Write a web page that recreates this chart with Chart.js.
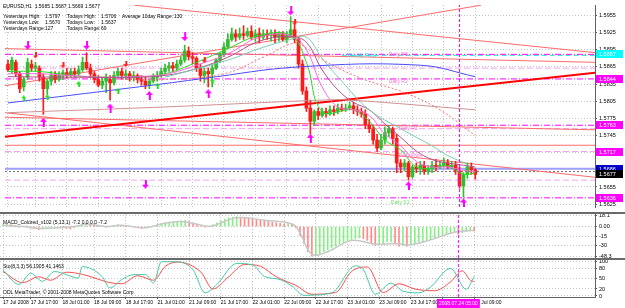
<!DOCTYPE html>
<html>
<head>
<meta charset="utf-8">
<script src="https://cdn.jsdelivr.net/npm/chart.js@4.4.1/dist/chart.umd.min.js"></script>
<style>
body { margin: 0; background: #fff; }
#wrap { position: relative; width: 625px; height: 308px; overflow: hidden; background: #fff; font-family: "Liberation Sans", Arial, sans-serif; }
canvas { position: absolute; left: 0; }
.t { position: absolute; font-size: 5px; line-height: 6px; color: #000; white-space: pre; z-index: 5; }
.sep { position: absolute; left: 0; width: 625px; height: 2px; background: #6a6a6a; }
</style>
</head>
<body>
<div id="wrap">
  <canvas id="main" width="625" height="212" style="top:0"></canvas>
  <div class="sep" style="top:212px"></div>
  <canvas id="macd" width="625" height="44" style="top:214px"></canvas>
  <div class="sep" style="top:258px"></div>
  <canvas id="stoch" width="625" height="48" style="top:260px"></canvas>

  <div class="t" style="left:3px;top:3px">EURUSD,H1  1.5685 1.5687 1.5669 1.5677</div>
  <div class="t" style="left:3px;top:13px">Yesterdays High:</div>
  <div class="t" style="left:45px;top:13px">1.5797</div>
  <div class="t" style="left:67px;top:13px">Todays High:</div>
  <div class="t" style="left:101px;top:13px">1.5706</div>
  <div class="t" style="left:122px;top:13px">Average 10day Range:</div>
  <div class="t" style="left:174px;top:13px">130</div>
  <div class="t" style="left:3px;top:19px">Yesterdays Low:</div>
  <div class="t" style="left:45px;top:19px">1.5670</div>
  <div class="t" style="left:67px;top:19px">Todays Low:</div>
  <div class="t" style="left:101px;top:19px">1.5637</div>
  <div class="t" style="left:3px;top:25px">Yesterdays Range:</div>
  <div class="t" style="left:45px;top:25px">127</div>
  <div class="t" style="left:67px;top:25px">Todays Range:</div>
  <div class="t" style="left:101px;top:25px">69</div>

  <div class="t" style="left:3px;top:219px">MACD_Colored_v102 (5,13,1) -7.2 0.0 0.0 -7.2</div>
  <div class="t" style="left:3px;top:263px">Sto(8,3,3) 56.1905 41.1463</div>
  <div class="t" style="left:3px;top:289px">ODL MetaTrader, © 2001-2008 MetaQuotes Software Corp.</div>
</div>

<script>
// hourly candles, bar 0 = 17 Jul 10:00
const opens = [
  1.5870,1.5860,1.5873,1.5853,1.5830,1.5847,1.5870,1.5863,1.5863,1.5847,
  1.5827,1.5840,1.5850,1.5843,1.5852,1.5855,1.5850,1.5857,1.5853,1.5860,
  1.5873,1.5863,1.5853,1.5843,1.5833,1.5840,1.5843,1.5837,1.5850,1.5857,
  1.5850,1.5853,1.5847,1.5850,1.5843,1.5840,1.5833,1.5840,1.5847,1.5850,
  1.5857,1.5863,1.5867,1.5863,1.5870,1.5877,1.5893,1.5883,1.5880,1.5863,
  1.5850,1.5857,1.5853,1.5863,1.5877,1.5887,1.5900,1.5913,1.5923,1.5917,
  1.5923,1.5920,1.5927,1.5917,1.5923,1.5917,1.5923,1.5920,1.5923,1.5917,
  1.5923,1.5913,1.5920,1.5930,1.5913,1.5870,1.5823,1.5793,1.5770,1.5787,
  1.5780,1.5787,1.5783,1.5790,1.5787,1.5793,1.5790,1.5793,1.5797,1.5790,
  1.5787,1.5783,1.5763,1.5757,1.5737,1.5723,1.5737,1.5750,1.5757,1.5740,
  1.5697,1.5690,1.5697,1.5673,1.5690,1.5687,1.5693,1.5683,1.5687,1.5693,
  1.5690,1.5693,1.5697,1.5690,1.5693,1.5683,1.5657,1.5677,1.5690,1.5685
];
const highs = [
  1.5877,1.5882,1.5877,1.5857,1.5847,1.5880,1.5877,1.5873,1.5867,1.5853,
  1.5843,1.5857,1.5857,1.5857,1.5860,1.5863,1.5862,1.5863,1.5867,1.5882,
  1.5890,1.5870,1.5857,1.5850,1.5847,1.5853,1.5850,1.5857,1.5863,1.5863,
  1.5860,1.5857,1.5857,1.5853,1.5850,1.5847,1.5843,1.5853,1.5857,1.5863,
  1.5870,1.5873,1.5873,1.5877,1.5883,1.5903,1.5900,1.5890,1.5883,1.5870,
  1.5863,1.5863,1.5870,1.5880,1.5890,1.5907,1.5923,1.5933,1.5930,1.5933,
  1.5937,1.5933,1.5937,1.5930,1.5933,1.5930,1.5930,1.5930,1.5930,1.5927,
  1.5927,1.5927,1.5953,1.5940,1.5917,1.5877,1.5830,1.5807,1.5790,1.5793,
  1.5793,1.5793,1.5797,1.5797,1.5800,1.5800,1.5800,1.5803,1.5803,1.5797,
  1.5793,1.5790,1.5773,1.5763,1.5747,1.5747,1.5760,1.5763,1.5760,1.5747,
  1.5703,1.5703,1.5700,1.5693,1.5697,1.5700,1.5700,1.5693,1.5700,1.5703,
  1.5700,1.5706,1.5703,1.5700,1.5700,1.5690,1.5680,1.5697,1.5697,1.5687
];
const lows = [
  1.5857,1.5853,1.5848,1.5820,1.5823,1.5843,1.5857,1.5857,1.5840,1.5782,
  1.5817,1.5833,1.5837,1.5840,1.5843,1.5845,1.5847,1.5847,1.5850,1.5857,
  1.5860,1.5847,1.5837,1.5830,1.5827,1.5820,1.5807,1.5833,1.5847,1.5843,
  1.5843,1.5840,1.5840,1.5837,1.5833,1.5827,1.5827,1.5837,1.5840,1.5847,
  1.5853,1.5857,1.5857,1.5860,1.5867,1.5873,1.5877,1.5870,1.5857,1.5840,
  1.5837,1.5830,1.5830,1.5860,1.5873,1.5883,1.5897,1.5910,1.5910,1.5913,
  1.5913,1.5917,1.5913,1.5910,1.5907,1.5913,1.5913,1.5910,1.5907,1.5910,
  1.5910,1.5907,1.5917,1.5907,1.5863,1.5817,1.5787,1.5747,1.5763,1.5773,
  1.5777,1.5777,1.5780,1.5780,1.5783,1.5787,1.5787,1.5790,1.5783,1.5780,
  1.5777,1.5757,1.5750,1.5730,1.5717,1.5720,1.5730,1.5743,1.5730,1.5680,
  1.5680,1.5683,1.5667,1.5670,1.5680,1.5677,1.5677,1.5677,1.5680,1.5683,
  1.5687,1.5690,1.5687,1.5687,1.5677,1.5653,1.5637,1.5670,1.5677,1.5669
];
const closes = [
  1.5860,1.5877,1.5853,1.5827,1.5843,1.5873,1.5863,1.5867,1.5847,1.5827,
  1.5840,1.5850,1.5843,1.5852,1.5855,1.5850,1.5857,1.5853,1.5860,1.5873,
  1.5863,1.5853,1.5843,1.5833,1.5840,1.5847,1.5837,1.5850,1.5857,1.5850,
  1.5853,1.5847,1.5850,1.5843,1.5840,1.5833,1.5840,1.5847,1.5850,1.5857,
  1.5863,1.5867,1.5863,1.5870,1.5877,1.5893,1.5883,1.5880,1.5863,1.5850,
  1.5857,1.5853,1.5863,1.5877,1.5887,1.5900,1.5913,1.5923,1.5917,1.5923,
  1.5920,1.5927,1.5917,1.5923,1.5917,1.5923,1.5920,1.5923,1.5917,1.5923,
  1.5913,1.5920,1.5930,1.5913,1.5870,1.5823,1.5793,1.5770,1.5787,1.5780,
  1.5787,1.5783,1.5790,1.5787,1.5793,1.5790,1.5793,1.5797,1.5790,1.5787,
  1.5783,1.5763,1.5757,1.5737,1.5723,1.5737,1.5750,1.5757,1.5740,1.5697,
  1.5690,1.5697,1.5673,1.5690,1.5687,1.5693,1.5683,1.5687,1.5693,1.5690,
  1.5693,1.5697,1.5690,1.5693,1.5683,1.5657,1.5677,1.5690,1.5685,1.5677
];

// moving averages read at a few bars
const maGreenX = [0, 8, 16, 24, 32, 40, 48, 56, 64, 72, 76, 80, 88, 92, 96, 100, 104, 108, 112, 116, 119];
const maGreen = [1.5857, 1.5857, 1.5850, 1.5847, 1.5847, 1.5853, 1.5873, 1.5897, 1.5920, 1.5920, 1.5873, 1.5787, 1.5790, 1.5770, 1.5737, 1.5720, 1.5690, 1.5688, 1.5692, 1.5677, 1.5680];
const maPinkX = [0, 8, 16, 24, 32, 40, 48, 56, 64, 72, 76, 80, 84, 88, 92, 96, 100, 104, 108, 112, 116, 119];
const maPink = [1.5853, 1.5853, 1.5850, 1.5847, 1.5848, 1.5852, 1.5868, 1.5888, 1.5917, 1.5920, 1.5895, 1.5830, 1.5795, 1.5790, 1.5780, 1.5748, 1.5727, 1.5700, 1.5690, 1.5690, 1.5684, 1.5682];
const maPurpleX = [0, 16, 32, 40, 48, 56, 64, 72, 76, 80, 84, 88, 92, 96, 100, 104, 108, 112, 116, 119];
const maPurple = [1.5848, 1.5847, 1.5847, 1.5850, 1.5862, 1.5882, 1.5910, 1.5918, 1.5908, 1.5860, 1.5825, 1.5803, 1.5790, 1.5765, 1.5742, 1.5718, 1.5703, 1.5697, 1.5693, 1.5690];
const maTealX = [40, 56, 64, 72, 76, 80, 85, 92, 100, 108, 112, 117];
const maTeal = [1.5847, 1.5877, 1.5897, 1.5913, 1.5917, 1.5880, 1.5840, 1.5790, 1.5757, 1.5727, 1.5710, 1.5695];
const maDotX = [30, 40, 55, 65, 73, 76, 80, 90, 101, 110, 119];
const maDot = [1.5843, 1.5843, 1.5853, 1.5882, 1.5907, 1.5898, 1.5878, 1.5845, 1.5820, 1.5790, 1.5745];
const maBlueX = [0, 39, 50, 74, 105, 119];
const maBlue = [1.5802, 1.5835, 1.5845, 1.5865, 1.5868, 1.5848];
const maBrownX = [0, 40, 80, 87, 119];
const maBrown = [1.5785, 1.5795, 1.5807, 1.5807, 1.5790];

// trend lines: start bar, start price, end bar, end price
const trendX1 = [32.1, -0.76, -0.76, -0.76, -0.76, -0.76, -0.76];
const trendY1 = [1.5973, 1.5832, 1.5743, 1.5785, 1.5728, 1.5777, 1.5897];
const trendX2 = [149.5, 120.5, 149.5, 149.5, 149.5, 149.5, 149.5];
const trendY2 = [1.5890, 1.5973, 1.5855, 1.5672, 1.5728, 1.5755, 1.5873];

// pivot levels
const pivotLevels = [1.5887, 1.5844, 1.5763, 1.5636];
const pinkLevels = [1.5863, 1.5757, 1.5717, 1.5667];
const weeklyPivot = 1.5885;
const blueLevel = 1.5687;
const askLevel = 1.5682;
const levelNames = ['Weekly Pivot', 'Daily R3', 'Daily R2', 'Daily R1', 'Daily Pivot', 'Daily S1'];
const levelNameX = [86.4, 97, 97, 99.5, 99.5, 97.5];
const levelNameY = [1.5884, 1.5887, 1.5840, 1.5757, 1.5710, 1.5628];
const priceBoxes = [1.5887, 1.5844, 1.5763, 1.5717, 1.5686, 1.5677, 1.5636];

// fractal arrows
const magUpX = [9, 26, 36, 51, 77, 102, 116];
const magUpY = [1.5768, 1.5793, 1.5815, 1.5818, 1.5740, 1.5657, 1.5627];
const magDownX = [5, 20, 45, 72, 35];
const magDownY = [1.5903, 1.5903, 1.5918, 1.5963, 1.5660];
const redDownX = [7, 14, 30, 50, 73];
const redDownY = [1.5885, 1.5868, 1.5870, 1.5877, 1.5943];
const greenUpX = [4, 10, 18, 28, 38, 52];
const greenUpY = [1.5810, 1.5812, 1.5835, 1.5823, 1.5832, 1.5840];

// MACD
const macdHist = [
  3, 4, 3, 1, -1, 0, 1, 0, -2, -5,
  -4, -3, -2, -2, -1, -2, -3, -4, -2, 1,
  4, 5, 4, 3, 1, 0, -1, 0, 2, 3,
  2, 1, 0, -1, -2, -3, -2, -1, 1, 3,
  5, 6, 7, 8, 8, 9, 10, 8, 6, 4,
  1, -1, 0, 3, 6, 9, 12, 14, 15, 16,
  15, 14, 13, 12, 11, 10, 9, 8, 7, 6,
  5, 4, 5, 4, -2, -14, -27, -40, -47, -46,
  -43, -40, -37, -34, -31, -28, -25, -23, -21, -19,
  -18, -19, -22, -26, -30, -29, -27, -24, -24, -28,
  -31, -30, -31, -29, -27, -25, -24, -22, -20, -18,
  -16, -14, -12, -10, -8, -12, -10, -8, -7, -7.2
];
const macdSigX = [0, 5, 9, 14, 19, 21, 26, 30, 36, 40, 45, 51, 53, 59, 66, 73, 75, 78, 82, 88, 94, 99, 103, 108, 114, 119];
const macdSig = [2, 0, -3, -2, 1, 4, 0, 2, -2, 4, 8, 1, 1, 14, 10, 4, -10, -44, -40, -22, -28, -27, -29, -21, -9, -6];
const macdTicks = [18.1, 0, -15, -30, -48.3];
const macdTickText = ['18.1', '0.00', '-15', '-30', '-48.3'];

// Stochastic
const stochKX = [0, 4, 7, 10, 13, 16, 19, 20, 25, 27, 30, 33, 36, 38, 40, 43, 48, 51, 54, 59, 63, 66, 70, 73, 76, 83, 89, 91, 94, 98, 101, 105, 108, 113, 117, 119];
const stochK = [75, 33, 65, 42, 70, 61, 51, 84, 56, 23, 47, 61, 61, 37, 98, 98, 75, 9, 33, 93, 89, 56, 47, 28, 2, 9, 86, 75, 5, 37, 14, 9, 26, 79, 19, 56];
const stochDX = [0, 5, 9, 12, 16, 20, 23, 27, 30, 34, 38, 41, 44, 50, 53, 57, 61, 65, 69, 74, 78, 84, 88, 92, 96, 100, 104, 109, 113, 116, 118, 119];
const stochD = [70, 38, 55, 45, 68, 62, 52, 38, 35, 58, 45, 85, 97, 68, 20, 55, 90, 85, 55, 30, 5, 10, 70, 83, 10, 35, 20, 15, 40, 72, 45, 41];
const stochTicks = [100, 80, 50, 20, 0];

// axes
const priceTicks = [1.5955, 1.5925, 1.5895, 1.5865, 1.5835, 1.5805, 1.5775, 1.5745, 1.5715, 1.5685, 1.5655, 1.5625];
const timeIdx = [0, 7, 15, 23, 31, 39, 47, 55, 63, 71, 79, 87, 95, 103, 111, 119];
const timeText = ['17 Jul 2008', '17 Jul 17:00', '18 Jul 01:00', '18 Jul 09:00', '18 Jul 17:00', '21 Jul 01:00', '21 Jul 09:00', '21 Jul 17:00', '22 Jul 01:00', '22 Jul 09:00', '22 Jul 17:00', '23 Jul 01:00', '23 Jul 09:00', '23 Jul 17:00', '24 Jul 01:00', '24 Jul 09:00'];
const crossBar = 115;
const crossText = '2008.07.24 05:00';

const FONT = '"Liberation Sans", Arial, sans-serif';
Chart.defaults.font.family = FONT;
Chart.defaults.font.size = 5.5;
Chart.defaults.color = '#000';
Chart.defaults.animation = false;

const X_MIN = -0.76, X_MAX = 149.5;
const GRID = '#c4c4c4';
const BULL = '#2fbf2f', BEAR = '#ff1a1a';

function xScale(showLabels) {
    return {
        type: 'linear', min: X_MIN, max: X_MAX, offset: false,
        afterBuildTicks: s => { s.ticks = timeIdx.map(v => ({ value: v })); },
        ticks: {
            display: showLabels, autoSkip: false, maxRotation: 0, minRotation: 0,
            align: 'start', padding: 1, font: { size: 5 },
            callback: v => timeText[timeIdx.indexOf(v)]
        },
        grid: { color: GRID, drawTicks: showLabels, tickLength: 2, tickColor: '#606060', offset: false },
        border: { display: showLabels, color: '#606060', dash: [1, 2] },
        afterFit: s => { s.height = showLabels ? 11 : 0; s.paddingLeft = 0; s.paddingRight = 0; }
    };
}

function yScale(min, max, tickVals, fmt) {
    return {
        position: 'right', min: min, max: max,
        afterBuildTicks: s => { s.ticks = tickVals.map(v => ({ value: v })); },
        ticks: { autoSkip: false, padding: 2, callback: fmt },
        grid: { color: GRID, tickLength: 2, tickColor: '#606060' },
        border: { display: true, color: '#606060', dash: [1, 2] },
        afterFit: s => { s.width = 30; s.paddingTop = 0; s.paddingBottom = 0; }
    };
}

function pts(xs, ys) {
    return xs.map((x, i) => ({ x: x, y: ys[i] }));
}

function lineSet(xs, ys, color, width, extra) {
    return Object.assign({
        type: 'line', data: pts(xs, ys), borderColor: color, borderWidth: width,
        pointRadius: 0, fill: false, tension: 0.4, order: 1
    }, extra || {});
}

function arrowImg(color, up, w, h) {
    const c = document.createElement('canvas');
    c.width = w; c.height = h;
    const g = c.getContext('2d');
    g.fillStyle = color;
    const hh = Math.round(h * 0.45);
    const sw = Math.max(1, Math.round(w / 3));
    const sx = Math.round((w - sw) / 2);
    g.beginPath();
    if (up) {
        g.moveTo(w / 2, 0); g.lineTo(w, hh); g.lineTo(0, hh); g.fill();
        g.fillRect(sx, hh, sw, h - hh);
    } else {
        g.moveTo(w / 2, h); g.lineTo(w, h - hh); g.lineTo(0, h - hh); g.fill();
        g.fillRect(sx, 0, sw, h - hh);
    }
    return c;
}

function arrowSet(xs, ys, img) {
    return { type: 'line', data: pts(xs, ys), showLine: false, pointStyle: img, pointRadius: 4, order: 0 };
}

function crossLine(min, max) {
    return {
        type: 'line', data: [{ x: crossBar, y: min }, { x: crossBar, y: max }],
        borderColor: '#ff00ff', borderWidth: 1, borderDash: [3, 2], pointRadius: 0, order: 0
    };
}

// ---------- main price panel ----------
const P_MIN = 1.5620, P_MAX = 1.59733;
const idx = closes.map((c, i) => i);
const candleColors = idx.map(i => closes[i] >= opens[i] ? BULL : BEAR);

const mainSets = [];
trendX1.forEach((x, k) => {
    mainSets.push({
        type: 'line', data: [{ x: x, y: trendY1[k] }, { x: trendX2[k], y: trendY2[k] }],
        borderColor: k === 2 ? '#ff0000' : '#ff6a6a', borderWidth: k === 2 ? 2 : 1,
        pointRadius: 0, order: 4
    });
});
pivotLevels.forEach(v => mainSets.push({
    type: 'line', data: [{ x: X_MIN, y: v }, { x: X_MAX, y: v }],
    borderColor: '#ff00ff', borderWidth: 1, borderDash: [6, 2, 1, 2], pointRadius: 0, order: 4
}));
pinkLevels.forEach(v => mainSets.push({
    type: 'line', data: [{ x: X_MIN, y: v }, { x: X_MAX, y: v }],
    borderColor: '#f4a0f0', borderWidth: 1, borderDash: [6, 3], pointRadius: 0, order: 4
}));
mainSets.push({
    type: 'line', data: [{ x: 85, y: weeklyPivot }, { x: X_MAX, y: weeklyPivot }],
    borderColor: '#40e8e8', borderWidth: 1, borderDash: [5, 3], pointRadius: 0, order: 4
});
mainSets.push({
    type: 'line', data: [{ x: X_MIN, y: blueLevel }, { x: X_MAX, y: blueLevel }],
    borderColor: '#a0a0ff', borderWidth: 2, pointRadius: 0, order: 4
});
mainSets.push({
    type: 'line', data: [{ x: X_MIN, y: askLevel }, { x: X_MAX, y: askLevel }],
    borderColor: '#707070', borderWidth: 1, borderDash: [2, 2], pointRadius: 0, order: 4
});
mainSets.push(crossLine(P_MIN, P_MAX));

mainSets.push({
    type: 'bar', data: idx.map(i => ({ x: i, y: [lows[i], highs[i]] })),
    backgroundColor: candleColors, barThickness: 1, grouped: false, order: 3
});
mainSets.push({
    type: 'bar', data: idx.map(i => ({ x: i, y: [opens[i], closes[i]] })),
    backgroundColor: candleColors, barThickness: 3, minBarLength: 1, grouped: false, order: 2
});

mainSets.push(lineSet(maBlueX, maBlue, '#4a4aff', 1));
mainSets.push(lineSet(maBrownX, maBrown, '#d09090', 1));
mainSets.push(lineSet(maDotX, maDot, '#ff7070', 1, { borderDash: [2, 2] }));
mainSets.push(lineSet(maTealX, maTeal, '#78ccb0', 1));
mainSets.push(lineSet(maPurpleX, maPurple, '#b0508a', 1));
mainSets.push(lineSet(maPinkX, maPink, '#ff66dd', 1));
mainSets.push(lineSet(maGreenX, maGreen, '#22dd22', 1));

mainSets.push(arrowSet(magUpX, magUpY, arrowImg('#ff00ff', true, 7, 9)));
mainSets.push(arrowSet(magDownX, magDownY, arrowImg('#ff00ff', false, 7, 9)));
mainSets.push(arrowSet(redDownX, redDownY, arrowImg('#ff2020', false, 5, 6)));
mainSets.push(arrowSet(greenUpX, greenUpY, arrowImg('#20e020', true, 5, 6)));

const nameColors = ['#20e0e0', '#ff70d0', '#ff70d0', '#ff70d0', '#ff70d0', '#70e070'];
const boxColors = ['#00ffff', '#ff00ff', '#ff00ff', '#ff00ff', '#0000c8', '#000000', '#ff00ff'];

const mainDeco = {
    id: 'mainDeco',
    afterDatasetsDraw(chart) {
        const { ctx, scales: { x, y } } = chart;
        ctx.save();
        ctx.font = '5px ' + FONT;
        ctx.textBaseline = 'middle';
        levelNames.forEach((t, k) => {
            ctx.fillStyle = nameColors[k];
            ctx.fillText(t, x.getPixelForValue(levelNameX[k]), y.getPixelForValue(levelNameY[k]));
        });
        ctx.restore();
    },
    afterDraw(chart) {
        const { ctx, chartArea, scales: { y } } = chart;
        ctx.save();
        ctx.font = '5.5px ' + FONT;
        ctx.textBaseline = 'middle';
        priceBoxes.forEach((v, k) => {
            const py = Math.round(y.getPixelForValue(v));
            ctx.fillStyle = boxColors[k];
            ctx.fillRect(chartArea.right + 1, py - 4, 27, 8);
            ctx.fillStyle = '#ffffff';
            ctx.fillText(v.toFixed(4), chartArea.right + 4, py + 0.5);
        });
        ctx.restore();
    }
};

new Chart(document.getElementById('main'), {
    type: 'bar',
    data: { datasets: mainSets },
    options: {
        responsive: false, animation: false,
        layout: { padding: 0 },
        plugins: { legend: { display: false }, tooltip: { enabled: false } },
        scales: {
            x: xScale(false),
            y: yScale(P_MIN, P_MAX, priceTicks, v => v.toFixed(4))
        }
    },
    plugins: [mainDeco]
});

// ---------- MACD panel ----------
const macdColors = macdHist.map((v, i) => (i > 0 && v < macdHist[i - 1]) ? '#ff8a8a' : '#88ee88');
new Chart(document.getElementById('macd'), {
    type: 'bar',
    data: {
        datasets: [
            crossLine(-50, 20),
            lineSet(macdSigX, macdSig, '#c8c8c8', 1.5, { order: 0 }),
            {
                type: 'bar', data: macdHist.map((v, i) => ({ x: i, y: v })),
                backgroundColor: macdColors, barThickness: 1, grouped: false, order: 2
            }
        ]
    },
    options: {
        responsive: false, animation: false,
        layout: { padding: 0 },
        plugins: { legend: { display: false }, tooltip: { enabled: false } },
        scales: {
            x: xScale(false),
            y: yScale(-50, 20, macdTicks, (v, i) => macdTickText[i])
        }
    }
});

// ---------- Stochastic panel ----------
const crossLabel = {
    id: 'crossLabel',
    afterDraw(chart) {
        const { ctx, chartArea, scales: { x } } = chart;
        const px = x.getPixelForValue(crossBar);
        ctx.save();
        ctx.font = '5px ' + FONT;
        const w = ctx.measureText(crossText).width + 4;
        ctx.fillStyle = '#ff00ff';
        ctx.fillRect(px - w / 2, chartArea.bottom + 2, w, 9);
        ctx.fillStyle = '#ffffff';
        ctx.textAlign = 'center';
        ctx.textBaseline = 'middle';
        ctx.fillText(crossText, px, chartArea.bottom + 6.5);
        ctx.restore();
    }
};

new Chart(document.getElementById('stoch'), {
    type: 'line',
    data: {
        datasets: [
            crossLine(-3, 103),
            lineSet(stochKX, stochK, '#45c8a8', 1, { cubicInterpolationMode: 'monotone' }),
            lineSet(stochDX, stochD, '#ff4a4a', 1, { cubicInterpolationMode: 'monotone' })
        ]
    },
    options: {
        responsive: false, animation: false,
        layout: { padding: 0 },
        plugins: { legend: { display: false }, tooltip: { enabled: false } },
        scales: {
            x: xScale(true),
            y: yScale(-2.9, 102.9, stochTicks, v => String(v))
        }
    },
    plugins: [crossLabel]
});
</script>
</body>
</html>
